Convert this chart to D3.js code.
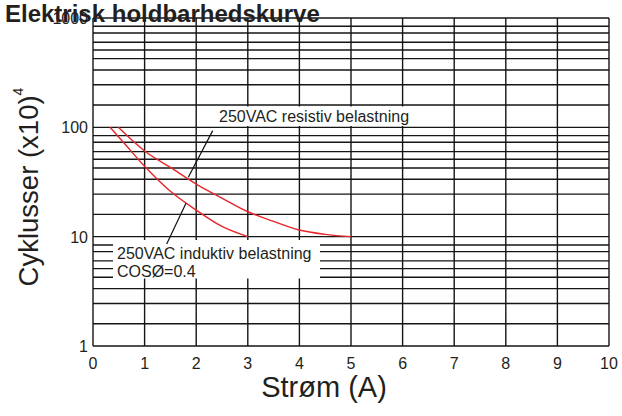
<!DOCTYPE html>
<html>
<head>
<meta charset="utf-8">
<script src="https://cdn.jsdelivr.net/npm/d3@7"></script>
<style>
  html, body { margin: 0; padding: 0; background: #fff; }
  svg { display: block; }
  text { font-family: "Liberation Sans", Arial, Helvetica, sans-serif; fill: #231f20; }
</style>
</head>
<body>
<svg id="chart" width="622" height="416"></svg>
<script>
// ---- data ----
const title = "Elektrisk holdbarhedskurve";
const xTicks = [0, 1, 2, 3, 4, 5, 6, 7, 8, 9, 10];
const yMajorTicks = [1, 10, 100, 1000];
const yMinorMultipliers = [1.6, 2.45, 3.35, 4.25, 5.1, 6, 7.3, 8.4];
const resistiveX = [0.49, 1.0, 1.5, 2.0, 2.5, 3.0, 3.5, 4.0, 4.5, 5.0];
const resistiveY = [100, 60.8, 43, 30.3, 22.5, 16.9, 13.8, 11.5, 10.5, 10];
const inductiveX = [0.33, 0.6, 1.0, 1.5, 2.0, 2.5, 3.0];
const inductiveY = [100, 72, 44, 26, 17.5, 12.4, 10];
const resistiveLabel = "250VAC resistiv belastning";
const inductiveLabel = ["250VAC induktiv belastning", "COSØ=0.4"];
const xLabel = "Strøm (A)";
const yLabel = "Cyklusser (x10)";
const yLabelSup = "4";

// ---- layout ----
const svg = d3.select("#chart");
const pLeft = 93, pRight = 609, pTop = 18, pBottom = 346;
const x = d3.scaleLinear().domain([0, 10]).range([pLeft, pRight]);
const y = d3.scaleLog().domain([1, 1000]).range([pBottom, pTop]);

const gridColor = "#151515";
const gridW = 1.4;

// grid values
const yGrid = [];
for (let d = 1; d < 1000; d *= 10) {
  yGrid.push(d);
  yMinorMultipliers.forEach(m => yGrid.push(d * m));
}
yGrid.push(1000);

const g = svg.append("g");
g.selectAll("line.h").data(yGrid).enter().append("line")
  .attr("x1", pLeft).attr("x2", pRight)
  .attr("y1", d => y(d)).attr("y2", d => y(d))
  .attr("stroke", gridColor).attr("stroke-width", gridW);
g.selectAll("line.v").data(xTicks).enter().append("line")
  .attr("x1", d => x(d)).attr("x2", d => x(d))
  .attr("y1", pTop).attr("y2", pBottom)
  .attr("stroke", gridColor).attr("stroke-width", gridW);

// tick labels
svg.selectAll("text.xt").data(xTicks).enter().append("text")
  .attr("x", d => x(d)).attr("y", 369)
  .attr("text-anchor", "middle").attr("font-size", 16)
  .attr("fill", "#333")
  .text(d => d);
svg.selectAll("text.yt").data(yMajorTicks).enter().append("text")
  .attr("x", 88).attr("y", d => y(d)).attr("dy", "0.38em")
  .attr("text-anchor", "end").attr("font-size", 16)
  .attr("fill", "#333")
  .text(d => d);

// curves
const line = d3.line().x(d => x(d[0])).y(d => y(d[1])).curve(d3.curveMonotoneX);
const red = "#e8262b";
svg.append("path").datum(d3.zip(resistiveX, resistiveY))
  .attr("d", line).attr("fill", "none").attr("stroke", red).attr("stroke-width", 1.4);
svg.append("path").datum(d3.zip(inductiveX, inductiveY))
  .attr("d", line).attr("fill", "none").attr("stroke", red).attr("stroke-width", 1.4);

// annotation boxes
svg.append("rect").attr("x", 215).attr("y", 106.5).attr("width", 205).attr("height", 19.5).attr("fill", "#fff");
svg.append("text").attr("x", 219).attr("y", 122).attr("font-size", 16).text(resistiveLabel);

svg.append("rect").attr("x", 113).attr("y", 240).attr("width", 207).attr("height", 38.5).attr("fill", "#fff");
svg.selectAll("text.ind").data(inductiveLabel).enter().append("text")
  .attr("x", 117).attr("y", (d, i) => 259 + i * 17.5).attr("font-size", 16).text(d => d);

// leader lines
const leaders = [
  [[2.32, 93.3], [1.847, 35.0]],
  [[1.428, 8.58], [1.802, 20.2]]
];
svg.selectAll("line.lead").data(leaders).enter().append("line")
  .attr("x1", d => x(d[0][0])).attr("y1", d => y(d[0][1]))
  .attr("x2", d => x(d[1][0])).attr("y2", d => y(d[1][1]))
  .attr("stroke", "#111").attr("stroke-width", 1.2);

// axis titles
svg.append("text").attr("x", 324).attr("y", 397)
  .attr("text-anchor", "middle").attr("font-size", 29).text(xLabel);
const yl = svg.append("text").attr("transform", "translate(38,187) rotate(-90)")
  .attr("text-anchor", "middle").attr("font-size", 27.5);
yl.append("tspan").text(yLabel);
yl.append("tspan").attr("font-size", 14).attr("dy", "-1.1em").text(yLabelSup);

// title
svg.append("text").attr("x", 5).attr("y", 22).attr("font-size", 24)
  .attr("font-weight", "bold").text(title);
</script>
</body>
</html>
